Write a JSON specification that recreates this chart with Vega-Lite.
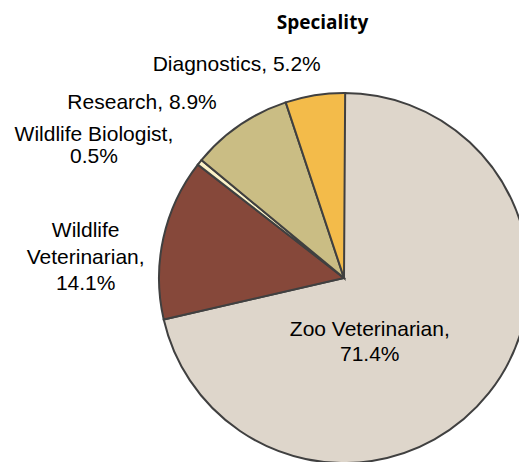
{
  "$schema": "https://vega.github.io/schema/vega-lite/v6.json",
  "width": 519,
  "height": 422,
  "autosize": "none",
  "padding": {"top": 40, "left": 0, "right": 0, "bottom": 0},
  "background": "white",
  "title": {
    "text": "Speciality",
    "font": "Open Sans",
    "fontSize": 19,
    "fontWeight": "bold",
    "color": "black",
    "anchor": "middle",
    "dx": 63,
    "baseline": "alphabetic",
    "offset": -8
  },
  "data": {
    "values": [
      {"i": 1, "category": "Zoo Veterinarian", "pct": 71.4, "label": "Zoo Veterinarian,\n71.4%"},
      {"i": 2, "category": "Wildlife Veterinarian", "pct": 14.1, "label": "Wildlife\nVeterinarian,\n14.1%"},
      {"i": 3, "category": "Wildlife Biologist", "pct": 0.5, "label": "Wildlife Biologist,\n0.5%"},
      {"i": 4, "category": "Research", "pct": 8.9, "label": "Research, 8.9%"},
      {"i": 5, "category": "Diagnostics", "pct": 5.2, "label": "Diagnostics, 5.2%"}
    ]
  },
  "transform": [
    {"stack": "pct", "groupby": [], "sort": [{"field": "i", "order": "ascending"}], "as": ["t0", "t1"]},
    {"calculate": "(datum.t0 + datum.t1) / 2", "as": "tmid"}
  ],
  "layer": [
    {
      "mark": {"type": "arc", "x": 344, "y": 238, "radius": 185, "stroke": "#404040", "strokeWidth": 2},
      "encoding": {
        "theta": {"field": "t0", "type": "quantitative", "scale": {"domain": [0, 100]}},
        "theta2": {"field": "t1"},
        "color": {
          "field": "category",
          "type": "nominal",
          "legend": null,
          "scale": {
            "domain": ["Zoo Veterinarian", "Wildlife Veterinarian", "Wildlife Biologist", "Research", "Diagnostics"],
            "range": ["#DED6CB", "#86483A", "#FBF2C8", "#CABD84", "#F3BB4A"]
          }
        }
      }
    },
    {
      "transform": [{"filter": "datum.i == 1"}],
      "mark": {"type": "text", "x": 344, "y": 238, "radius": 70, "dx": -29, "dy": 8.5, "font": "Liberation Sans", "fontSize": 21, "lineBreak": "\n", "lineHeight": 25, "align": "center", "baseline": "middle", "color": "black"},
      "encoding": {"theta": {"field": "tmid", "type": "quantitative", "scale": {"domain": [0, 100]}}, "text": {"field": "label"}}
    },
    {
      "transform": [{"filter": "datum.i == 2"}],
      "mark": {"type": "text", "x": 344, "y": 238, "radius": 200, "dx": -63, "dy": -3.5, "font": "Liberation Sans", "fontSize": 21, "lineBreak": "\n", "lineHeight": 26.5, "align": "center", "baseline": "middle", "color": "black"},
      "encoding": {"theta": {"field": "tmid", "type": "quantitative", "scale": {"domain": [0, 100]}}, "text": {"field": "label"}}
    },
    {
      "transform": [{"filter": "datum.i == 3"}],
      "mark": {"type": "text", "x": 344, "y": 238, "radius": 200, "dx": -94, "dy": -18, "font": "Liberation Sans", "fontSize": 21, "lineBreak": "\n", "lineHeight": 22, "align": "center", "baseline": "middle", "color": "black"},
      "encoding": {"theta": {"field": "tmid", "type": "quantitative", "scale": {"domain": [0, 100]}}, "text": {"field": "label"}}
    },
    {
      "transform": [{"filter": "datum.i == 4"}],
      "mark": {"type": "text", "x": 344, "y": 238, "radius": 200, "dx": -89, "dy": -10, "font": "Liberation Sans", "fontSize": 21, "align": "center", "baseline": "middle", "color": "black"},
      "encoding": {"theta": {"field": "tmid", "type": "quantitative", "scale": {"domain": [0, 100]}}, "text": {"field": "label"}}
    },
    {
      "transform": [{"filter": "datum.i == 5"}],
      "mark": {"type": "text", "x": 344, "y": 238, "radius": 200, "dx": -76, "dy": -15, "font": "Liberation Sans", "fontSize": 21, "align": "center", "baseline": "middle", "color": "black"},
      "encoding": {"theta": {"field": "tmid", "type": "quantitative", "scale": {"domain": [0, 100]}}, "text": {"field": "label"}}
    }
  ],
  "config": {"view": {"stroke": null}}
}
